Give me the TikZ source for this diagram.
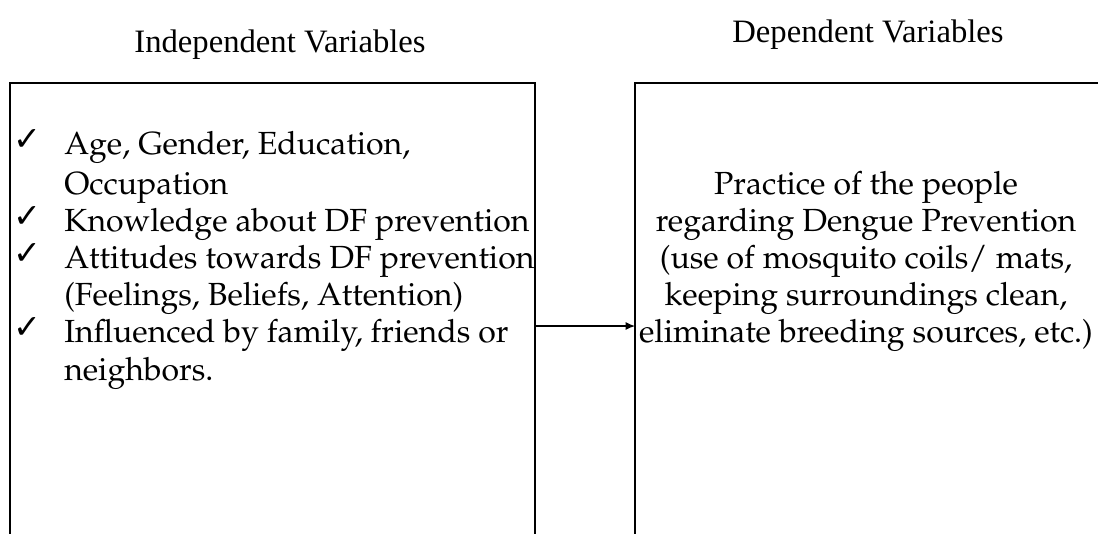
\documentclass[tikz,border=0pt]{standalone}
\usepackage[T1]{fontenc}
\usepackage{fontspec}
\usetikzlibrary{arrows.meta}
\newfontfamily\titlefont{Liberation Serif}
\newfontfamily\tickfont{DejaVu Sans}
\newcommand\bodyfont{\fontencoding{T1}\fontfamily{ppl}\selectfont}
\tikzset{
  head/.style={anchor=base, inner sep=0.75pt, font=\titlefont\fontsize{24.5}{28}\selectfont},
  item/.style={anchor=base west, inner sep=0.75pt, font=\bodyfont\fontsize{24}{30}\selectfont},
  tick/.style={anchor=base west, inner sep=0.75pt, font=\tickfont\fontsize{25}{28}\selectfont},
  result/.style={anchor=base, inner sep=0.75pt, font=\bodyfont\fontsize{24}{30}\selectfont},
}

\begin{document}
\begin{tikzpicture}[x=0.75pt,y=0.75pt,yscale=-1,xscale=1]
	\useasboundingbox (0,0) rectangle (1098,533);
	\clip (0,0) rectangle (1098,533);

	% boxes, open at the bottom
	\draw [line width=1.2]  (10,540) -- (10,83) -- (535,83) -- (535,540) ;
	\draw [line width=1.2]  (635,540) -- (635,83) -- (1110,83) ;
	\coordinate (ivR) at (535,326);
	\coordinate (dvL) at (635,326);

	\draw (280,52) node [head] (ivhead) {Independent Variables};
	\draw (868,42) node [head] (dvhead) {Dependent Variables};

	% independent variables
	\draw (12,150) node [tick] (t1) {✓};
	\draw (63,154) node [item] (age) {Age, Gender, Education,};
	\draw (63,194) node [item] (occ) {Occupation};
	\draw (12,227) node [tick] (t2) {✓};
	\draw (63,231) node [item] (know) {Knowledge about DF prevention};
	\draw (12,264) node [tick] (t3) {✓};
	\draw (63,268) node [item] (att) {Attitudes towards DF prevention};
	\draw (63,305) node [item] (feel) {(Feelings, Beliefs, Attention)};
	\draw (12,338) node [tick] (t4) {✓};
	\draw (63,342) node [item] (infl) {Influenced by family, friends or};
	\draw (63,380) node [item] (neigh) {neighbors.};

	% dependent variable
	\draw (866,194) node [result] (prac) {Practice of the people};
	\draw (866,231) node [result] (reg) {regarding Dengue Prevention};
	\draw (866,268) node [result] (coil) {(use of mosquito coils/ mats,};
	\draw (866,305) node [result] (keep) {keeping surroundings clean,};
	\draw (866,342) node [result] (elim) {eliminate breeding sources, etc.)};

	\draw [-{Latex[length=7,width=6]}, line width=0.9]  (ivR) -- (dvL) ;
\end{tikzpicture}
\end{document}
